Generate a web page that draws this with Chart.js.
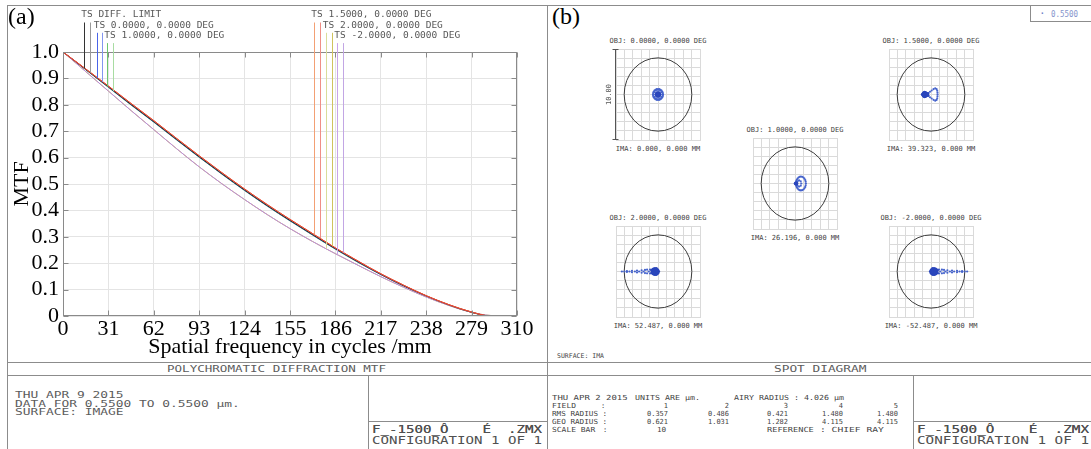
<!DOCTYPE html>
<html><head><meta charset="utf-8">
<script src="https://cdn.jsdelivr.net/npm/chart.js@4.4.0/dist/chart.umd.min.js"></script>
<style>
html,body{margin:0;padding:0;background:#fff;}
#root{position:relative;width:1091px;height:449px;overflow:hidden;background:#fff;}
.ln{position:absolute;background:#8c8c8c;}
.t{position:absolute;white-space:pre;line-height:1.2;transform-origin:0 50%;}
canvas{position:absolute;}
</style></head><body><div id="root"></div>
<script>
// ---------------- DATA (MTF) ----------------
const freq      = [0,15.5,31,46.5,62,77.5,93,108.5,124,139.5,155,170.5,186,201.5,217,232.5,248,263.5,279,292,310];
const diffLimit = [1,0.934,0.868,0.801,0.736,0.669,0.603,0.539,0.477,0.418,0.362,0.308,0.255,0.205,0.158,0.115,0.076,0.042,0.014,0,0];
const field0    = [1,0.934,0.867,0.800,0.735,0.668,0.602,0.538,0.476,0.417,0.361,0.307,0.254,0.204,0.157,0.114,0.075,0.041,0.014,0,0];
const field1    = [1,0.933,0.866,0.799,0.734,0.667,0.601,0.537,0.475,0.416,0.360,0.306,0.253,0.203,0.157,0.114,0.075,0.041,0.014,0,0];
const field15   = [1,0.936,0.871,0.805,0.740,0.673,0.607,0.543,0.481,0.422,0.366,0.312,0.258,0.208,0.160,0.117,0.077,0.043,0.015,0,0];
const field2T   = [1,0.926,0.852,0.778,0.706,0.634,0.565,0.501,0.441,0.384,0.331,0.282,0.236,0.192,0.149,0.109,0.072,0.040,0.014,0.002,0];
const field2S   = [1,0.935,0.869,0.803,0.738,0.671,0.605,0.541,0.479,0.420,0.364,0.310,0.256,0.206,0.159,0.116,0.076,0.042,0.015,0,0];
const fieldM2T  = [1,0.926,0.852,0.778,0.706,0.634,0.565,0.501,0.441,0.384,0.331,0.282,0.236,0.192,0.149,0.109,0.072,0.040,0.014,0.002,0];
const fieldM2S  = [1,0.935,0.869,0.803,0.738,0.671,0.605,0.541,0.479,0.420,0.364,0.310,0.257,0.206,0.159,0.116,0.076,0.042,0.015,0,0];
const xTickLabels = ['0','31','62','93','124','155','186','217','238','279','310'];
const yTickLabels = ['0','0.1','0.2','0.3','0.4','0.5','0.6','0.7','0.8','0.9','1.0'];
const leaderLabels = ['TS DIFF. LIMIT','TS 0.0000, 0.0000 DEG','TS 1.0000, 0.0000 DEG','TS 1.5000, 0.0000 DEG','TS 2.0000, 0.0000 DEG','TS -2.0000, 0.0000 DEG'];
const leaderFreqs  = [[14.5,18.4],[23.0,26.4],[30.2,34.3],[171.6,175.5],[179.4,183.5],[187.3,191.4]];

// ---------------- DATA (spot diagrams, µm) ----------------
const airyRadius = 4.026;
const scaleBar = 10;
const objLabels = ['OBJ: 0.0000, 0.0000 DEG','OBJ: 1.0000, 0.0000 DEG','OBJ: 1.5000, 0.0000 DEG','OBJ: 2.0000, 0.0000 DEG','OBJ: -2.0000, 0.0000 DEG'];
const imaLabels = ['IMA: 0.000, 0.000 MM','IMA: 26.196, 0.000 MM','IMA: 39.323, 0.000 MM','IMA: 52.487, 0.000 MM','IMA: -52.487, 0.000 MM'];
const fieldNums = ['1','2','3','4','5'];
const rmsRadius = ['0.357','0.486','0.421','1.480','1.480'];
const geoRadius = ['0.621','1.031','1.282','4.115','4.115'];
const spot1Core = [[0,0],[0.1,0],[-0.1,0],[0,0.1],[0,-0.1],[0.07,0.07],[-0.07,0.07],[0.07,-0.07],[-0.07,-0.07]];
const spot1Ring = [[0.6,0],[0.58,0.16],[0.52,0.3],[0.42,0.42],[0.3,0.52],[0.16,0.58],[0,0.6],[-0.16,0.58],[-0.3,0.52],[-0.42,0.42],[-0.52,0.3],[-0.58,0.16],
                   [-0.6,0],[-0.58,-0.16],[-0.52,-0.3],[-0.42,-0.42],[-0.3,-0.52],[-0.16,-0.58],[0,-0.6],[0.16,-0.58],[0.3,-0.52],[0.42,-0.42],[0.52,-0.3],[0.58,-0.16],
                   [0.5,0],[0.43,0.25],[0.25,0.43],[0,0.5],[-0.25,0.43],[-0.43,0.25],[-0.5,0],[-0.43,-0.25],[-0.25,-0.43],[0,-0.5],[0.25,-0.43],[0.43,-0.25]];
const spot2Core = [[0.05,0],[0.12,0.06],[0.12,-0.06],[0.2,0]];
const spot2Loop = [[1.3,0],[1.27,0.2],[1.22,0.38],[1.12,0.53],[1.0,0.66],[0.85,0.73],[0.7,0.76],[0.55,0.73],[0.42,0.66],[0.3,0.54],[0.22,0.4],[0.16,0.28],[0.15,0.15],
                   [0.15,-0.15],[0.16,-0.28],[0.22,-0.4],[0.3,-0.54],[0.42,-0.66],[0.55,-0.73],[0.7,-0.76],[0.85,-0.73],[1.0,-0.66],[1.12,-0.53],[1.22,-0.38],[1.27,-0.2],
                   [0.75,0],[0.68,0.24],[0.48,0.34],[0.3,0.22],[0.3,-0.22],[0.48,-0.34],[0.68,-0.24]];
const spot3Core = [[-1.0,0],[-0.9,0.14],[-0.9,-0.14],[-0.78,0.22],[-0.78,-0.22],[-0.65,0.18],[-0.65,-0.18],[-0.72,0],[-0.52,0],[-0.42,0.08],[-0.42,-0.08]];
const spot3Tail = [[-0.3,0.16],[-0.3,-0.16],[-0.12,0.3],[-0.12,-0.3],[0.08,0.44],[0.08,-0.44],[0.3,0.58],[0.3,-0.58],[0.5,0.68],[0.5,-0.68],[0.66,0.6],[0.66,-0.6],[0.74,0.42],[0.74,-0.42],[0.77,0.2],[0.77,-0.2],[0.78,0]];
const spot4Core = [[0.05,0],[-0.05,0.18],[-0.05,-0.18],[-0.2,0.3],[-0.2,-0.3],[-0.38,0.32],[-0.38,-0.32],[-0.55,0.26],[-0.55,-0.26],[-0.3,0],[-0.6,0],[-0.72,0.14],[-0.72,-0.14],[-0.15,0],[-0.45,0.12],[-0.45,-0.12]];
const spot4Tail = [[-0.95,0.22],[-0.95,-0.22],[-1.1,0],[-1.3,0.2],[-1.3,-0.2],[-1.55,0.17],[-1.55,-0.17],[-1.72,0],[-1.95,0.14],[-1.95,-0.14],[-2.25,0],[-2.5,0.11],[-2.5,-0.11],[-2.75,0],[-3.1,0.08],[-3.1,-0.08],[-3.4,0],[-3.7,0.05],[-3.7,-0.05],[-4.0,0],[-4.3,0]];
const spot5Core = [[-0.05,0],[0.05,0.18],[0.05,-0.18],[0.2,0.3],[0.2,-0.3],[0.38,0.32],[0.38,-0.32],[0.55,0.26],[0.55,-0.26],[0.3,0],[0.6,0],[0.72,0.14],[0.72,-0.14],[0.15,0],[0.45,0.12],[0.45,-0.12]];
const spot5Tail = [[0.95,0.22],[0.95,-0.22],[1.1,0],[1.3,0.2],[1.3,-0.2],[1.55,0.17],[1.55,-0.17],[1.72,0],[1.95,0.14],[1.95,-0.14],[2.25,0],[2.5,0.11],[2.5,-0.11],[2.75,0],[3.1,0.08],[3.1,-0.08],[3.4,0],[3.7,0.05],[3.7,-0.05],[4.0,0],[4.3,0]];

// ---------------- helpers ----------------
const root = document.getElementById('root');
const MONO = "'DejaVu Sans Mono', monospace";
const SERIF = "'Liberation Serif', serif";
function line(x,y,w,h,c){const d=document.createElement('div');d.className='ln';
  Object.assign(d.style,{left:x+'px',top:y+'px',width:w+'px',height:h+'px'});if(c)d.style.background=c;root.appendChild(d);}
function txt(s,x,y,o){o=o||{};const d=document.createElement('div');d.className='t';d.textContent=s;
  d.style.font=(o.weight||'normal')+' '+(o.size||8)+'px '+(o.family||MONO);d.style.lineHeight=o.lh||'1.2';d.style.color=o.color||'#5c5c5c';
  if(o.shadow) d.style.textShadow=o.shadow;
  root.appendChild(d);const W=d.getBoundingClientRect().width;
  const sc=o.cw?(s.length*o.cw)/W:(o.w?o.w/W:1);const E=W*sc;let left=x;
  if(o.align==='center')left=x-E/2;else if(o.align==='right')left=x-E;
  d.style.left=left+'px';d.style.top=y+'px';d.style.transform='translateY(-50%) scaleX('+sc+')';return d;}
function mkCanvas(x,y,w,h){const c=document.createElement('canvas');c.width=w;c.height=h;
  c.style.left=x+'px';c.style.top=y+'px';c.style.width=w+'px';c.style.height=h+'px';root.appendChild(c);return c;}
function interp(xs,ys,v){for(let i=0;i<xs.length-1;i++){if(v>=xs[i]&&v<=xs[i+1]){const t=(v-xs[i])/(xs[i+1]-xs[i]);return ys[i]+t*(ys[i+1]-ys[i]);}}return ys[ys.length-1];}

// ---------------- frame lines ----------------
line(7,5,1084,1); line(7,5,1,444); line(547,5,1,444);
line(7,362,1084,1); line(7,375,1084,1);
line(368,375,1,74); line(368,421,179,1);
line(913,375,1,74); line(913,421,178,1);
line(1030,5,1,16); line(1030,21,61,1);

// ---------------- MTF chart ----------------
const mk = arr => freq.map((f,i)=>({x:f,y:arr[i]}));
const ds = (label,arr,color)=>({label,data:mk(arr),borderColor:color,borderWidth:1,pointRadius:0,fill:false,cubicInterpolationMode:'monotone'});
const leaderColors = [['#333333','#9a9a9a'],['#4a64e8','#8496f0'],['#6cc56c','#a8dca2'],['#f3a074','#ef8e86'],['#d9dd9a','#cfc35e'],['#c9a3ea','#c2a6e4']];
const leaderData = [[diffLimit,diffLimit],[field0,field0],[field1,field1],[field15,field15],[field2T,field2S],[fieldM2T,fieldM2S]];

const mtfDecor = {id:'mtfDecor', afterDraw(chart){
  const {ctx,chartArea:a,scales:{x,y}}=chart; ctx.save();
  const L=Math.round(a.left)+0.5,R=Math.round(a.right)-0.5,T=Math.round(a.top)+0.5,B=Math.round(a.bottom)-0.5;
  ctx.strokeStyle='#8a8a8a';ctx.lineWidth=1;ctx.strokeRect(L,T,R-L,B-T);
  ctx.beginPath();
  x.ticks.forEach(t=>{const p=Math.round(x.getPixelForValue(t.value))+0.5;ctx.moveTo(p,B);ctx.lineTo(p,B-5);ctx.moveTo(p,T);ctx.lineTo(p,T+5);});
  y.ticks.forEach(t=>{const p=Math.round(y.getPixelForValue(t.value))+0.5;ctx.moveTo(L,p);ctx.lineTo(L+5,p);ctx.moveTo(R,p);ctx.lineTo(R-5,p);});
  ctx.stroke();
  ctx.font="9.5px 'DejaVu Sans Mono'";ctx.textBaseline='middle';ctx.textAlign='left';
  leaderLabels.forEach((lab,k)=>{
    const rowY=15+(k%3)*10.3;
    leaderFreqs[k].forEach((f,j)=>{
      const px=Math.round(x.getPixelForValue(f))+0.5;
      const py=y.getPixelForValue(interp(freq,leaderData[k][j],f));
      ctx.strokeStyle=leaderColors[k][j];ctx.beginPath();ctx.moveTo(px,rowY+7.5);ctx.lineTo(px,py);ctx.stroke();
    });
    ctx.fillStyle='#585858';ctx.fillText(lab,x.getPixelForValue(leaderFreqs[k][0])-3,rowY);
  });
  ctx.restore();
}};

new Chart(mkCanvas(0,0,547,361),{
  type:'line',
  data:{datasets:[
    ds('TS 1.5000 T',field15,'#e8452e'),
    ds('TS 1.5000 S',field15,'#ee6a50'),
    ds('DIFF LIMIT',diffLimit,'#2a2a2a'),
    ds('TS -2.0000 T',fieldM2T,'#b98ae6'),
    ds('TS 2.0000 T',field2T,'#d4c040'),
    ds('TS 0.0000',field0,'#4a64e8'),
    ds('TS 1.0000',field1,'#5cbf5c'),
    ds('TS 2.0000 S',field2S,'#d4c040'),
    ds('TS -2.0000 S',fieldM2S,'#b98ae6')
  ]},
  options:{
    responsive:false,animation:false,devicePixelRatio:1,events:[],
    layout:{padding:{left:0,right:30,top:52,bottom:0},autoPadding:false},
    plugins:{legend:{display:false},tooltip:{enabled:false}},
    scales:{
      x:{type:'linear',min:0,max:310,afterFit:s=>{s.height=45;},
         ticks:{stepSize:31,autoSkip:false,maxRotation:0,minRotation:0,padding:0,color:'#000',font:{family:SERIF,size:22},
                callback:v=>xTickLabels[Math.round(v/31)]},
         grid:{color:'#e4e4e4',drawTicks:false},border:{display:false},
         title:{display:true,text:'Spatial frequency in cycles /mm',color:'#000',font:{family:SERIF,size:22},padding:{top:0,bottom:1}}},
      y:{type:'linear',min:0,max:1,afterFit:s=>{s.width=63;},
         ticks:{stepSize:0.1,autoSkip:false,padding:4,color:'#000',font:{family:SERIF,size:22},callback:v=>yTickLabels[Math.round(v*10)]},
         grid:{color:'#e4e4e4',drawTicks:false},border:{display:false},
         title:{display:true,text:'MTF',color:'#000',font:{family:SERIF,size:22},padding:{top:9,bottom:0}}}
    }
  },
  plugins:[mtfDecor]
});

// ---------------- spot diagrams ----------------
const spotBoxes = [{x:616,y:49},{x:753,y:138},{x:889,y:49},{x:616,y:226},{x:889,y:226}];
const spotSets = [[spot1Core,spot1Ring],[spot2Core,spot2Loop],[spot3Core,spot3Tail],[spot4Core,spot4Tail],[spot5Core,spot5Tail]];
const coreR = [2.4,1.7,1.8,1.7,1.7];
const BW=84,BH=91;
spotBoxes.forEach((b,i)=>{
  const deco={id:'spotDeco'+i,
    beforeDatasetsDraw(chart){const {ctx,scales:{x,y}}=chart;ctx.save();
      const cx=x.getPixelForValue(0),cy=y.getPixelForValue(0);
      const rx=Math.abs(x.getPixelForValue(airyRadius)-cx),ry=Math.abs(y.getPixelForValue(airyRadius)-cy);
      ctx.strokeStyle='#3c3c3c';ctx.lineWidth=1;ctx.beginPath();ctx.ellipse(cx,cy,rx,ry,0,0,Math.PI*2);ctx.stroke();ctx.restore();},
    afterDraw(chart){ if(i!==0) return; const {ctx,chartArea:a,scales:{y}}=chart;ctx.save();
      const px=Math.round(a.left)-0.5,t=y.getPixelForValue(scaleBar/2),bo=y.getPixelForValue(-scaleBar/2);
      ctx.strokeStyle='#555';ctx.lineWidth=1;ctx.beginPath();ctx.moveTo(px,t);ctx.lineTo(px,bo);
      ctx.moveTo(px-3,Math.round(t)+0.5);ctx.lineTo(px+3,Math.round(t)+0.5);ctx.moveTo(px-3,Math.round(bo)-0.5);ctx.lineTo(px+3,Math.round(bo)-0.5);ctx.stroke();
      ctx.translate(px-6,(t+bo)/2);ctx.rotate(-Math.PI/2);ctx.font="7px 'DejaVu Sans Mono'";ctx.fillStyle='#555';ctx.textAlign='center';ctx.textBaseline='middle';
      ctx.fillText(scaleBar.toFixed(2),0,0);ctx.restore();}
  };
  const toXY=arr=>arr.map(p=>({x:p[0],y:p[1]}));
  new Chart(mkCanvas(b.x-12,b.y-2,BW+14,BH+4),{
    type:'scatter',
    data:{datasets:[
      {data:toXY(spotSets[i][0]),pointRadius:coreR[i],backgroundColor:'#2a46bc',borderWidth:0},
      {data:toXY(spotSets[i][1]),pointRadius:1.1,backgroundColor:'#4563cc',borderWidth:0}
    ]},
    options:{responsive:false,animation:false,devicePixelRatio:1,events:[],
      layout:{padding:{left:12,right:2,top:2,bottom:2},autoPadding:false},
      plugins:{legend:{display:false},tooltip:{enabled:false}},
      scales:{
        x:{type:'linear',min:-5,max:5,afterFit:s=>{s.height=0;},ticks:{display:false,stepSize:1},grid:{color:'#dadada',drawTicks:false},border:{color:'#dadada'}},
        y:{type:'linear',min:-5,max:5,afterFit:s=>{s.width=0;},ticks:{display:false,stepSize:1},grid:{color:'#dadada',drawTicks:false},border:{color:'#dadada'}}
      }},
    plugins:[deco]
  });
  const cx=b.x+BW/2;
  txt(objLabels[i],cx,b.y-8.5,{size:7,align:'center',color:'#444'});
  txt(imaLabels[i],cx,b.y+BH+9,{size:7,align:'center',color:'#444'});
});

// ---------------- texts ----------------
txt('(a)',8,16,{family:SERIF,size:24,color:'#000'});
txt('(b)',552,16,{family:SERIF,size:24,color:'#000'});
txt('\u00B7',1039,14,{size:11,color:'#6f82c8'});
txt('0.5500',1051,14,{size:9,cw:4.5,color:'#8594cc'});
txt('SURFACE: IMA',557,357,{size:6.5,color:'#444'});
txt('POLYCHROMATIC DIFFRACTION MTF',276,369,{size:9.5,cw:7.55,align:'center'});
txt('SPOT DIAGRAM',820,369,{size:9.5,cw:7.7,align:'center'});
txt('THU APR 9 2015',15,396,{size:8,cw:7.75});
txt('DATA FOR 0.5500 TO 0.5500 \u00B5m.',15,404.5,{size:8,cw:7.75});
txt('SURFACE: IMAGE',15,413,{size:8,cw:7.75});
const FT={size:10.5,color:'#505050',lh:'2',shadow:'0 0.7px 0 #505050'};
txt('F_-1500_\u00D4    \u00C9  .ZMX',372,428.5,{...FT,cw:8.5});
txt('CONFIGURATION 1 OF 1',372,439.5,{...FT,cw:8.5,shadow:''});
txt('F_-1500_\u00D4    \u00C9  .ZMX',917,428.5,{...FT,cw:8.6});
txt('CONFIGURATION 1 OF 1',917,439.5,{...FT,cw:8.6,shadow:''});
// spot table
const colR=[668,729,788,843,898];
const rowY=[398,406,414,422,430];
const TS={size:7,color:'#444'};
txt('THU APR 2 2015',552,rowY[0],{...TS,cw:5.4});
txt('UNITS ARE \u00B5m.',635,rowY[0],{...TS,cw:5.0});
txt('AIRY RADIUS : 4.026 \u00B5m',734,rowY[0],{...TS,cw:5.0});
txt('FIELD',552,rowY[1],{...TS,cw:4.8});
txt(':',601,rowY[1],TS);
txt('RMS RADIUS :',552,rowY[2],{...TS,cw:4.6});
txt('GEO RADIUS :',552,rowY[3],{...TS,cw:4.6});
txt('SCALE BAR',552,rowY[4],{...TS,cw:4.8});
txt(':',603,rowY[4],TS);
colR.forEach((c,i)=>{
  txt(fieldNums[i],c,rowY[1],{...TS,align:'right'});
  txt(rmsRadius[i],c,rowY[2],{...TS,cw:4.2,align:'right'});
  txt(geoRadius[i],c,rowY[3],{...TS,cw:4.2,align:'right'});
});
txt(String(scaleBar),666,rowY[4],{...TS,cw:4.6,align:'right'});
txt('REFERENCE',767,rowY[4],{...TS,cw:5.2});
txt(': CHIEF RAY',820,rowY[4],{...TS,cw:5.8});
</script></body></html>
